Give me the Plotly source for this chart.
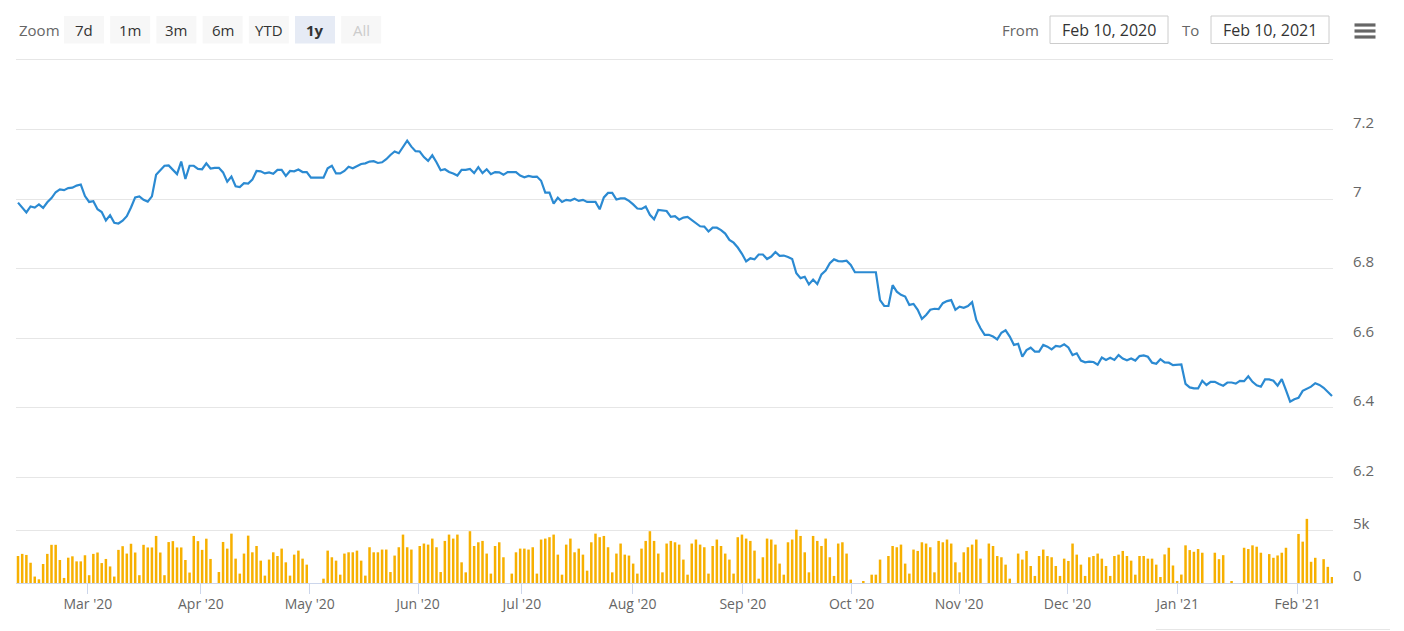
import plotly.graph_objects as go

# the page body adds an 8px margin, so the figure is drawn 8px smaller
PAGE_OFF = 8
W, H = 1404 - PAGE_OFF, 631 - PAGE_OFF
L, R, T, B = 16 - PAGE_OFF, 71, 60 - PAGE_OFF, 48

# daily close, one value per trading session (Feb 10, 2020 -> Feb 10, 2021)
price = [
    6.990, 6.977, 6.962, 6.979, 6.976, 6.985, 6.975, 6.991, 7.003, 7.020,
    7.028, 7.026, 7.032, 7.033, 7.039, 7.042, 7.009, 6.992, 6.994, 6.971,
    6.963, 6.939, 6.954, 6.932, 6.930, 6.938, 6.951, 6.976, 7.005, 7.008,
    6.998, 6.993, 7.008, 7.070, 7.084, 7.096, 7.097, 7.085, 7.072, 7.108,
    7.058, 7.096, 7.096, 7.087, 7.086, 7.103, 7.088, 7.090, 7.090, 7.077,
    7.050, 7.065, 7.037, 7.035, 7.046, 7.045, 7.056, 7.081, 7.080, 7.074,
    7.077, 7.073, 7.084, 7.084, 7.067, 7.081, 7.080, 7.085, 7.078, 7.078,
    7.062, 7.062, 7.062, 7.062, 7.089, 7.096, 7.074, 7.074, 7.081, 7.093,
    7.089, 7.096, 7.101, 7.103, 7.108, 7.109, 7.104, 7.106, 7.115, 7.127,
    7.137, 7.132, 7.151, 7.168, 7.151, 7.138, 7.137, 7.121, 7.110, 7.126,
    7.106, 7.083, 7.086, 7.078, 7.074, 7.068, 7.084,
    7.084, 7.087, 7.075, 7.092, 7.075, 7.086, 7.072, 7.078, 7.077, 7.070,
    7.078, 7.078, 7.078, 7.068, 7.063, 7.067, 7.064, 7.065, 7.053, 7.019,
    7.019, 6.987, 7.004, 6.992, 6.998, 6.996, 7.001, 6.995, 6.998, 6.992,
    6.993, 6.992, 6.971, 7.005, 7.018, 7.018, 6.999, 7.002, 7.002, 6.995,
    6.985, 6.973, 6.972, 6.979, 6.955, 6.942, 6.969, 6.967, 6.966, 6.949,
    6.951, 6.941, 6.947, 6.949, 6.940, 6.930, 6.922, 6.921, 6.907, 6.918,
    6.918, 6.911, 6.901, 6.883, 6.875, 6.861, 6.843, 6.821, 6.830, 6.827,
    6.841, 6.841, 6.828, 6.835, 6.848, 6.837, 6.838, 6.834, 6.828, 6.787,
    6.773, 6.777, 6.755, 6.769, 6.756, 6.784, 6.795, 6.816, 6.827, 6.822,
    6.821, 6.823, 6.811, 6.790, 6.790, 6.790, 6.790, 6.790, 6.790, 6.710,
    6.693, 6.693, 6.753,
    6.734, 6.725, 6.720, 6.696, 6.699, 6.682, 6.656, 6.667, 6.682, 6.685,
    6.684, 6.701, 6.707, 6.710, 6.682, 6.691, 6.688, 6.693, 6.704, 6.653,
    6.629, 6.610, 6.610, 6.605, 6.597, 6.616, 6.623, 6.605, 6.581, 6.584,
    6.547, 6.566, 6.573, 6.562, 6.562, 6.581, 6.576, 6.568, 6.578, 6.576,
    6.583, 6.574, 6.552, 6.557, 6.536, 6.531, 6.533, 6.532, 6.524, 6.545,
    6.538, 6.544, 6.538, 6.552, 6.542, 6.537, 6.542, 6.536, 6.549, 6.551,
    6.547, 6.530, 6.527, 6.540, 6.531, 6.530, 6.523, 6.525, 6.525, 6.469,
    6.459, 6.456, 6.456, 6.478, 6.466, 6.475, 6.475, 6.469, 6.464, 6.473,
    6.473, 6.470, 6.478, 6.477, 6.491, 6.475, 6.465, 6.461, 6.482, 6.482,
    6.478, 6.464, 6.483, 6.451, 6.418, 6.425, 6.429, 6.449, 6.456, 6.461,
    6.471, 6.466, 6.458, 6.446, 6.434,
]

volume = [
    2560, 2760, 2660, 1920, 610, 350, 1800, 2760, 3620, 3620,
    2180, 480, 2400, 2530, 2050, 2050, 2630, 740, 2760, 2890,
    1890, 2280, 1570, 610, 3140, 3490, 2790, 3720, 2890, 740,
    3620, 3370, 3370, 4460, 2890, 740, 3880, 3970, 3370, 3370,
    2180, 990, 4460, 3970, 3140, 4200, 2280,
    0, 1040, 3890, 3260, 4680, 2310, 890, 2790, 4490, 2910,
    3510, 2120, 700, 2220, 2910, 2560, 3260, 1960, 700, 2690,
    3070, 2310, 1740, 0, 0, 0, 410, 3070, 2440, 2120,
    790, 2790, 2910, 2910, 3070, 2120, 700, 3390, 2910, 2910,
    3170, 3170, 1040, 2600, 3390, 4590, 3390, 3170, 0, 3510,
    3740, 3640, 4210, 3390, 1040, 3990, 4590, 4210, 4590, 1960,
    1010, 4910, 3510, 3860, 3990, 2790, 890, 3510, 3860, 2440,
    0, 890, 2910, 3260, 3260, 3170, 3390, 890, 4120, 4210,
    4340, 4590, 2690, 790, 3640, 4210, 2910, 3260, 2690, 1170,
    3860, 4680, 4340, 4460, 3390, 1010, 2790, 3740, 2690, 2600,
    1840, 890, 3260, 3990, 4910, 3990, 2790, 1010, 3740, 3990,
    3860, 3640, 2220, 790, 3740, 4120,
    3640, 3390, 890, 3510, 4120, 3510, 2790, 2220, 890, 4340,
    4590, 4210, 3990, 3070, 410, 2440, 4210, 4120, 3640, 1840,
    790, 3860, 4120, 5060, 4460, 2910, 1010, 4460, 3990, 3510,
    4210, 2440, 670, 3740, 3860, 2790, 320, 0, 0, 190,
    0, 790, 790, 2220, 0, 2560, 3510, 3390, 3640, 1840,
    890, 3170, 3040,
    3860, 3740, 3390, 1010, 3990, 3860, 4120, 3740, 1960, 1010,
    2910, 3390, 3640, 4120, 2310, 0, 3740, 3510, 2560, 2440,
    1740, 410, 0, 2790, 2220, 3040, 1610, 670, 2560, 3170,
    2560, 2440, 1610, 670, 2310, 2090, 3740, 2690, 1740, 670,
    2440, 2560, 2790, 2310, 1610, 670, 2560, 2690, 3040, 2560,
    2120, 790, 2560, 2560, 2310, 2310, 1740,
    570, 2710, 3340, 1660, 190, 800, 3570, 3120, 2960, 3220,
    2870, 0, 0, 2870, 2260, 2640, 0, 190, 0, 0,
    3340, 3220, 3570, 3440, 2870, 0, 2740, 2390, 2610, 2870,
    3340, 0, 0, 4650, 3920, 6080, 2010, 2390, 0, 2260,
    1530, 570,
]

# ordinal axis: month labels sit at their session index
month_labels = ["Mar '20", "Apr '20", "May '20", "Jun '20", "Jul '20", "Aug '20",
                "Sep '20", "Oct '20", "Nov '20", "Dec '20", "Jan '21", "Feb '21"]
month_index = [16.7, 43.7, 69.7, 95.6, 120.4, 146.9, 173.2, 199.2, 224.9, 250.8, 277.1, 305.8]

price_ticks = [6.2, 6.4, 6.6, 6.8, 7.0, 7.2, 7.4]
price_text = ['6.2', '6.4', '6.6', '6.8', '7', '7.2', '']
vol_ticks = [0, 5000, 10000]
vol_text = ['0', '5k', '']

zoom_buttons = ['7d', '1m', '3m', '6m', 'YTD', '1y', 'All']
selected_btn = '1y'
disabled_btn = 'All'
date_from = 'Feb 10, 2020'
date_to = 'Feb 10, 2021'

FONT = 'Open Sans'
idx = list(range(len(price)))


# page pixel -> paper helpers for the toolbar drawn around the plot
def px(x):
    return (x - PAGE_OFF - L) / (W - L - R)


def py(y):
    return (H - B - (y - PAGE_OFF)) / (H - T - B)


def label(x, y, text, size, color, anchor='center'):
    return dict(x=px(x), y=py(y), xref='paper', yref='paper', text=text,
                showarrow=False, xanchor=anchor, yanchor='middle',
                font=dict(size=size, color=color, family=FONT))


def box(x0, x1, y0, y1, fill, line=None):
    return dict(type='rect', xref='paper', yref='paper',
                x0=px(x0), x1=px(x1), y0=py(y1), y1=py(y0), fillcolor=fill,
                line=line or dict(width=0), layer='above')


fig = go.Figure()

fig.add_trace(go.Bar(x=idx, y=volume, yaxis='y2',
                     marker=dict(color='#f7b000', line=dict(width=0)),
                     hoverinfo='skip'))
fig.add_trace(go.Scatter(x=idx, y=price, mode='lines',
                         line=dict(color='#2b8ad2', width=2.2),
                         hoverinfo='skip'))

shapes = []
annotations = []

# Zoom buttons
annotations.append(label(17, 30, 'Zoom', 15, '#666666', 'left'))
for k, lab in enumerate(zoom_buttons):
    bx = 64 + 46.2 * k
    fill = '#e6ebf5' if lab == selected_btn else '#f7f7f7'
    col = '#cccccc' if lab == disabled_btn else '#333333'
    txt = '<b>%s</b>' % lab if lab == selected_btn else lab
    shapes.append(box(bx, bx + 40, 16, 43.5, fill))
    annotations.append(label(bx + 20, 30, txt, 15, col))

# From / To inputs
annotations.append(label(1041, 29.5, 'From', 15, '#666666', 'right'))
annotations.append(label(1201, 29.5, 'To', 15, '#666666', 'right'))
for bx, txt in [(1050, date_from), (1211, date_to)]:
    shapes.append(box(bx, bx + 118, 16, 43.5, 'white', dict(color='#cccccc', width=1)))
    annotations.append(label(bx + 59, 29.5, txt, 16, '#333333'))

# context menu icon
for cy in [25, 31, 37]:
    shapes.append(box(1354.5, 1375.5, cy - 1.6, cy + 1.6, '#666666'))

# grid lines at the very top and at the pane split
for gy in [59.5, 477.5]:
    shapes.append(dict(type='line', xref='paper', yref='paper',
                       x0=px(16), x1=px(1333), y0=py(gy), y1=py(gy),
                       line=dict(color='#e6e6e6', width=1)))

shapes.append(dict(type='line', xref='paper', yref='paper',
                   x0=px(1156), x1=px(1390), y0=py(629.5), y1=py(629.5),
                   line=dict(color='#e6e6e6', width=1)))

split = py(477.5)

fig.update_layout(
    width=W, height=H,
    margin=dict(l=L, r=R, t=T, b=B, autoexpand=False),
    paper_bgcolor='white', plot_bgcolor='white',
    showlegend=False, bargap=0.4,
    font=dict(family=FONT, color='#666666'),
    xaxis=dict(range=[-0.48, 314.24], anchor='y2',
               tickvals=month_index, ticktext=month_labels,
               ticks='outside', ticklen=10, tickcolor='#ccd6eb', tickwidth=1,
               showline=True, linecolor='#ccd6eb', linewidth=1,
               showgrid=False, zeroline=False, automargin=False,
               ticklabelstandoff=-2,
               tickfont=dict(size=14, color='#666666')),
    yaxis=dict(domain=[split, 1], range=[6.2, 7.4], side='right', anchor='x',
               tickvals=price_ticks, ticktext=price_text,
               showgrid=True, gridcolor='#e6e6e6', gridwidth=1,
               zeroline=False, showline=False, ticks='', automargin=False,
               ticklabelstandoff=19, ticklabelshift=-7,
               tickfont=dict(size=15, color='#666666')),
    yaxis2=dict(domain=[0, split], range=[0, 10000], side='right', anchor='x',
                tickvals=vol_ticks, ticktext=vol_text,
                showgrid=True, gridcolor='#e6e6e6', gridwidth=1,
                zeroline=False, showline=False, ticks='', automargin=False,
                ticklabelstandoff=19, ticklabelshift=-7,
                tickfont=dict(size=15, color='#666666')),
    shapes=shapes,
    annotations=annotations,
)

fig.write_html("out.html")
